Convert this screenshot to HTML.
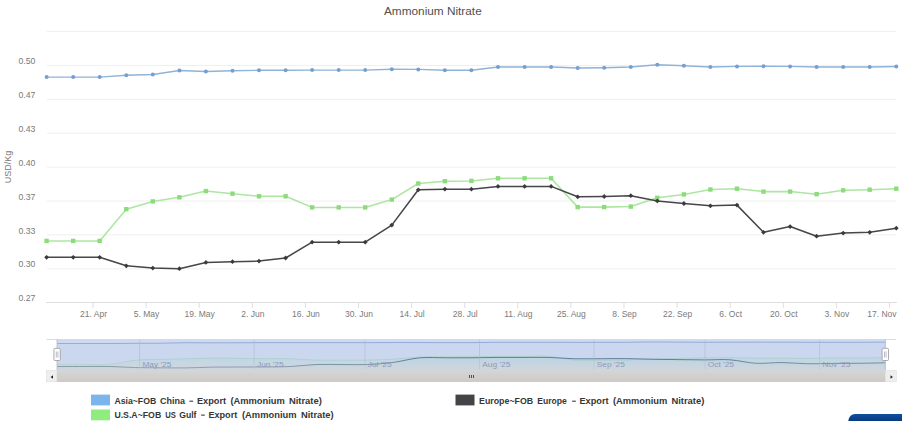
<!DOCTYPE html><html><head><meta charset="utf-8"><title>Ammonium Nitrate</title>
<style>html,body{margin:0;padding:0;background:#fff;}body{width:902px;height:424px;overflow:hidden;font-family:"Liberation Sans",sans-serif;}svg{display:block;}text{font-family:"Liberation Sans",sans-serif;}</style></head><body>
<svg width="902" height="424" viewBox="0 0 902 424">
<rect width="902" height="424" fill="#ffffff"/>
<line x1="47" x2="896" y1="31.5" y2="31.5" stroke="#efefef" stroke-width="1"/>
<line x1="47" x2="896" y1="65.4" y2="65.4" stroke="#efefef" stroke-width="1"/>
<line x1="47" x2="896" y1="99.3" y2="99.3" stroke="#efefef" stroke-width="1"/>
<line x1="47" x2="896" y1="133.2" y2="133.2" stroke="#efefef" stroke-width="1"/>
<line x1="47" x2="896" y1="167.1" y2="167.1" stroke="#efefef" stroke-width="1"/>
<line x1="47" x2="896" y1="201.0" y2="201.0" stroke="#efefef" stroke-width="1"/>
<line x1="47" x2="896" y1="234.9" y2="234.9" stroke="#efefef" stroke-width="1"/>
<line x1="47" x2="896" y1="268.8" y2="268.8" stroke="#efefef" stroke-width="1"/>
<line x1="46" x2="897" y1="302.5" y2="302.5" stroke="#dfdfe2" stroke-width="1"/>
<line x1="93.0" x2="93.0" y1="303" y2="308" stroke="#dfdfe2" stroke-width="1"/>
<line x1="146.1" x2="146.1" y1="303" y2="308" stroke="#dfdfe2" stroke-width="1"/>
<line x1="199.2" x2="199.2" y1="303" y2="308" stroke="#dfdfe2" stroke-width="1"/>
<line x1="252.3" x2="252.3" y1="303" y2="308" stroke="#dfdfe2" stroke-width="1"/>
<line x1="305.4" x2="305.4" y1="303" y2="308" stroke="#dfdfe2" stroke-width="1"/>
<line x1="358.5" x2="358.5" y1="303" y2="308" stroke="#dfdfe2" stroke-width="1"/>
<line x1="411.6" x2="411.6" y1="303" y2="308" stroke="#dfdfe2" stroke-width="1"/>
<line x1="464.7" x2="464.7" y1="303" y2="308" stroke="#dfdfe2" stroke-width="1"/>
<line x1="517.8" x2="517.8" y1="303" y2="308" stroke="#dfdfe2" stroke-width="1"/>
<line x1="570.9" x2="570.9" y1="303" y2="308" stroke="#dfdfe2" stroke-width="1"/>
<line x1="624.0" x2="624.0" y1="303" y2="308" stroke="#dfdfe2" stroke-width="1"/>
<line x1="677.1" x2="677.1" y1="303" y2="308" stroke="#dfdfe2" stroke-width="1"/>
<line x1="730.2" x2="730.2" y1="303" y2="308" stroke="#dfdfe2" stroke-width="1"/>
<line x1="783.3" x2="783.3" y1="303" y2="308" stroke="#dfdfe2" stroke-width="1"/>
<line x1="836.4" x2="836.4" y1="303" y2="308" stroke="#dfdfe2" stroke-width="1"/>
<line x1="889.5" x2="889.5" y1="303" y2="308" stroke="#dfdfe2" stroke-width="1"/>
<text x="384" y="15" font-size="11.2" fill="#505050" textLength="97.7" lengthAdjust="spacingAndGlyphs">Ammonium Nitrate</text>
<text x="18.4" y="64.0" font-size="8.8" fill="#7a7a7a" textLength="17" lengthAdjust="spacingAndGlyphs">0.50</text>
<text x="18.4" y="97.9" font-size="8.8" fill="#7a7a7a" textLength="17" lengthAdjust="spacingAndGlyphs">0.47</text>
<text x="18.4" y="131.8" font-size="8.8" fill="#7a7a7a" textLength="17" lengthAdjust="spacingAndGlyphs">0.43</text>
<text x="18.4" y="165.7" font-size="8.8" fill="#7a7a7a" textLength="17" lengthAdjust="spacingAndGlyphs">0.40</text>
<text x="18.4" y="199.6" font-size="8.8" fill="#7a7a7a" textLength="17" lengthAdjust="spacingAndGlyphs">0.37</text>
<text x="18.4" y="233.5" font-size="8.8" fill="#7a7a7a" textLength="17" lengthAdjust="spacingAndGlyphs">0.33</text>
<text x="18.4" y="267.4" font-size="8.8" fill="#7a7a7a" textLength="17" lengthAdjust="spacingAndGlyphs">0.30</text>
<text x="18.4" y="301.3" font-size="8.8" fill="#7a7a7a" textLength="17" lengthAdjust="spacingAndGlyphs">0.27</text>
<text transform="translate(10.7 167) rotate(-90)" text-anchor="middle" font-size="9.5" fill="#7a7a7a" textLength="32.5" lengthAdjust="spacingAndGlyphs">USD/Kg</text>
<text x="93.5" y="316.7" text-anchor="middle" font-size="8.5" fill="#7a7a7a">21. Apr</text>
<text x="146.6" y="316.7" text-anchor="middle" font-size="8.5" fill="#7a7a7a">5. May</text>
<text x="199.7" y="316.7" text-anchor="middle" font-size="8.5" fill="#7a7a7a">19. May</text>
<text x="252.8" y="316.7" text-anchor="middle" font-size="8.5" fill="#7a7a7a">2. Jun</text>
<text x="305.9" y="316.7" text-anchor="middle" font-size="8.5" fill="#7a7a7a">16. Jun</text>
<text x="359.0" y="316.7" text-anchor="middle" font-size="8.5" fill="#7a7a7a">30. Jun</text>
<text x="412.1" y="316.7" text-anchor="middle" font-size="8.5" fill="#7a7a7a">14. Jul</text>
<text x="465.2" y="316.7" text-anchor="middle" font-size="8.5" fill="#7a7a7a">28. Jul</text>
<text x="518.3" y="316.7" text-anchor="middle" font-size="8.5" fill="#7a7a7a">11. Aug</text>
<text x="571.4" y="316.7" text-anchor="middle" font-size="8.5" fill="#7a7a7a">25. Aug</text>
<text x="624.5" y="316.7" text-anchor="middle" font-size="8.5" fill="#7a7a7a">8. Sep</text>
<text x="677.6" y="316.7" text-anchor="middle" font-size="8.5" fill="#7a7a7a">22. Sep</text>
<text x="730.7" y="316.7" text-anchor="middle" font-size="8.5" fill="#7a7a7a">6. Oct</text>
<text x="783.8" y="316.7" text-anchor="middle" font-size="8.5" fill="#7a7a7a">20. Oct</text>
<text x="836.9" y="316.7" text-anchor="middle" font-size="8.5" fill="#7a7a7a">3. Nov</text>
<text x="896.5" y="316.7" text-anchor="end" font-size="8.5" fill="#7a7a7a">17. Nov</text>
<g transform="translate(0 0)">
<path d="M46.6 77.1 L73.2 77.1 L99.7 77.1 L126.3 75.3 L152.8 74.5 L179.4 70.5 L205.9 71.5 L232.5 70.8 L259.0 70.3 L285.6 70.2 L312.1 70.1 L338.7 70.1 L365.2 70.1 L391.8 69.3 L418.3 69.4 L444.9 70.2 L471.4 70.2 L498.0 67.0 L524.6 67.0 L551.1 67.0 L577.7 68.0 L604.2 67.7 L630.8 67.0 L657.3 64.7 L683.9 65.7 L710.4 67.0 L737.0 66.4 L763.5 66.2 L790.1 66.4 L816.6 67.0 L843.2 67.0 L869.7 67.0 L896.3 66.5" fill="none" stroke="#8fb3d9" stroke-width="1.4000000000000001" stroke-linejoin="round" stroke-linecap="round"/>
<circle cx="46.6" cy="77.1" r="2.0" fill="#779fcd"/>
<circle cx="73.2" cy="77.1" r="2.0" fill="#779fcd"/>
<circle cx="99.7" cy="77.1" r="2.0" fill="#779fcd"/>
<circle cx="126.3" cy="75.3" r="2.0" fill="#779fcd"/>
<circle cx="152.8" cy="74.5" r="2.0" fill="#779fcd"/>
<circle cx="179.4" cy="70.5" r="2.0" fill="#779fcd"/>
<circle cx="205.9" cy="71.5" r="2.0" fill="#779fcd"/>
<circle cx="232.5" cy="70.8" r="2.0" fill="#779fcd"/>
<circle cx="259.0" cy="70.3" r="2.0" fill="#779fcd"/>
<circle cx="285.6" cy="70.2" r="2.0" fill="#779fcd"/>
<circle cx="312.1" cy="70.1" r="2.0" fill="#779fcd"/>
<circle cx="338.7" cy="70.1" r="2.0" fill="#779fcd"/>
<circle cx="365.2" cy="70.1" r="2.0" fill="#779fcd"/>
<circle cx="391.8" cy="69.3" r="2.0" fill="#779fcd"/>
<circle cx="418.3" cy="69.4" r="2.0" fill="#779fcd"/>
<circle cx="444.9" cy="70.2" r="2.0" fill="#779fcd"/>
<circle cx="471.4" cy="70.2" r="2.0" fill="#779fcd"/>
<circle cx="498.0" cy="67.0" r="2.0" fill="#779fcd"/>
<circle cx="524.6" cy="67.0" r="2.0" fill="#779fcd"/>
<circle cx="551.1" cy="67.0" r="2.0" fill="#779fcd"/>
<circle cx="577.7" cy="68.0" r="2.0" fill="#779fcd"/>
<circle cx="604.2" cy="67.7" r="2.0" fill="#779fcd"/>
<circle cx="630.8" cy="67.0" r="2.0" fill="#779fcd"/>
<circle cx="657.3" cy="64.7" r="2.0" fill="#779fcd"/>
<circle cx="683.9" cy="65.7" r="2.0" fill="#779fcd"/>
<circle cx="710.4" cy="67.0" r="2.0" fill="#779fcd"/>
<circle cx="737.0" cy="66.4" r="2.0" fill="#779fcd"/>
<circle cx="763.5" cy="66.2" r="2.0" fill="#779fcd"/>
<circle cx="790.1" cy="66.4" r="2.0" fill="#779fcd"/>
<circle cx="816.6" cy="67.0" r="2.0" fill="#779fcd"/>
<circle cx="843.2" cy="67.0" r="2.0" fill="#779fcd"/>
<circle cx="869.7" cy="67.0" r="2.0" fill="#779fcd"/>
<circle cx="896.3" cy="66.5" r="2.0" fill="#779fcd"/>
</g>
<g transform="translate(0 0.3)">
<path d="M46.6 240.6 L73.2 240.6 L99.7 240.6 L126.3 208.9 L152.8 201.1 L179.4 197.0 L205.9 190.8 L232.5 193.4 L259.0 196.0 L285.6 196.0 L312.1 207.1 L338.7 207.1 L365.2 207.1 L391.8 199.3 L418.3 183.2 L444.9 180.9 L471.4 180.6 L498.0 178.0 L524.6 178.0 L551.1 178.0 L577.7 206.8 L604.2 206.8 L630.8 206.3 L657.3 197.5 L683.9 194.1 L710.4 189.2 L737.0 188.4 L763.5 191.3 L790.1 191.3 L816.6 193.9 L843.2 190.0 L869.7 189.4 L896.3 188.4" fill="none" stroke="#ace6a1" stroke-width="1.55" stroke-linejoin="round" stroke-linecap="round"/>
<rect x="44.4" y="238.4" width="4.4" height="4.4" fill="#8cdc7c"/>
<rect x="71.0" y="238.4" width="4.4" height="4.4" fill="#8cdc7c"/>
<rect x="97.5" y="238.4" width="4.4" height="4.4" fill="#8cdc7c"/>
<rect x="124.1" y="206.7" width="4.4" height="4.4" fill="#8cdc7c"/>
<rect x="150.6" y="198.9" width="4.4" height="4.4" fill="#8cdc7c"/>
<rect x="177.2" y="194.8" width="4.4" height="4.4" fill="#8cdc7c"/>
<rect x="203.7" y="188.6" width="4.4" height="4.4" fill="#8cdc7c"/>
<rect x="230.3" y="191.2" width="4.4" height="4.4" fill="#8cdc7c"/>
<rect x="256.8" y="193.8" width="4.4" height="4.4" fill="#8cdc7c"/>
<rect x="283.4" y="193.8" width="4.4" height="4.4" fill="#8cdc7c"/>
<rect x="309.9" y="204.9" width="4.4" height="4.4" fill="#8cdc7c"/>
<rect x="336.5" y="204.9" width="4.4" height="4.4" fill="#8cdc7c"/>
<rect x="363.0" y="204.9" width="4.4" height="4.4" fill="#8cdc7c"/>
<rect x="389.6" y="197.1" width="4.4" height="4.4" fill="#8cdc7c"/>
<rect x="416.1" y="181.0" width="4.4" height="4.4" fill="#8cdc7c"/>
<rect x="442.7" y="178.7" width="4.4" height="4.4" fill="#8cdc7c"/>
<rect x="469.2" y="178.4" width="4.4" height="4.4" fill="#8cdc7c"/>
<rect x="495.8" y="175.8" width="4.4" height="4.4" fill="#8cdc7c"/>
<rect x="522.4" y="175.8" width="4.4" height="4.4" fill="#8cdc7c"/>
<rect x="548.9" y="175.8" width="4.4" height="4.4" fill="#8cdc7c"/>
<rect x="575.5" y="204.6" width="4.4" height="4.4" fill="#8cdc7c"/>
<rect x="602.0" y="204.6" width="4.4" height="4.4" fill="#8cdc7c"/>
<rect x="628.6" y="204.1" width="4.4" height="4.4" fill="#8cdc7c"/>
<rect x="655.1" y="195.3" width="4.4" height="4.4" fill="#8cdc7c"/>
<rect x="681.7" y="191.9" width="4.4" height="4.4" fill="#8cdc7c"/>
<rect x="708.2" y="187.0" width="4.4" height="4.4" fill="#8cdc7c"/>
<rect x="734.8" y="186.2" width="4.4" height="4.4" fill="#8cdc7c"/>
<rect x="761.3" y="189.1" width="4.4" height="4.4" fill="#8cdc7c"/>
<rect x="787.9" y="189.1" width="4.4" height="4.4" fill="#8cdc7c"/>
<rect x="814.4" y="191.7" width="4.4" height="4.4" fill="#8cdc7c"/>
<rect x="841.0" y="187.8" width="4.4" height="4.4" fill="#8cdc7c"/>
<rect x="867.5" y="187.2" width="4.4" height="4.4" fill="#8cdc7c"/>
<rect x="894.1" y="186.2" width="4.4" height="4.4" fill="#8cdc7c"/>
<path d="M46.6 257.0 L73.2 257.0 L99.7 257.0 L126.3 265.5 L152.8 267.8 L179.4 268.4 L205.9 262.1 L232.5 261.4 L259.0 260.8 L285.6 257.7 L312.1 241.9 L338.7 241.9 L365.2 241.9 L391.8 224.8 L418.3 189.5 L444.9 188.9 L471.4 188.9 L498.0 186.1 L524.6 186.1 L551.1 186.1 L577.7 196.5 L604.2 196.2 L630.8 195.4 L657.3 200.6 L683.9 203.2 L710.4 205.5 L737.0 204.8 L763.5 232.0 L790.1 226.3 L816.6 235.9 L843.2 232.8 L869.7 232.0 L896.3 227.9" fill="none" stroke="#46464b" stroke-width="1.55" stroke-linejoin="round" stroke-linecap="round"/>
<path d="M46.6 254.6 L49.0 257.0 L46.6 259.4 L44.2 257.0Z" fill="#3a3a3f"/>
<path d="M73.2 254.6 L75.6 257.0 L73.2 259.4 L70.8 257.0Z" fill="#3a3a3f"/>
<path d="M99.7 254.6 L102.1 257.0 L99.7 259.4 L97.3 257.0Z" fill="#3a3a3f"/>
<path d="M126.3 263.1 L128.7 265.5 L126.3 267.9 L123.9 265.5Z" fill="#3a3a3f"/>
<path d="M152.8 265.4 L155.2 267.8 L152.8 270.2 L150.4 267.8Z" fill="#3a3a3f"/>
<path d="M179.4 266.0 L181.8 268.4 L179.4 270.8 L177.0 268.4Z" fill="#3a3a3f"/>
<path d="M205.9 259.7 L208.3 262.1 L205.9 264.5 L203.5 262.1Z" fill="#3a3a3f"/>
<path d="M232.5 259.0 L234.9 261.4 L232.5 263.8 L230.1 261.4Z" fill="#3a3a3f"/>
<path d="M259.0 258.4 L261.4 260.8 L259.0 263.2 L256.6 260.8Z" fill="#3a3a3f"/>
<path d="M285.6 255.3 L288.0 257.7 L285.6 260.1 L283.2 257.7Z" fill="#3a3a3f"/>
<path d="M312.1 239.5 L314.5 241.9 L312.1 244.3 L309.7 241.9Z" fill="#3a3a3f"/>
<path d="M338.7 239.5 L341.1 241.9 L338.7 244.3 L336.3 241.9Z" fill="#3a3a3f"/>
<path d="M365.2 239.5 L367.6 241.9 L365.2 244.3 L362.8 241.9Z" fill="#3a3a3f"/>
<path d="M391.8 222.4 L394.2 224.8 L391.8 227.2 L389.4 224.8Z" fill="#3a3a3f"/>
<path d="M418.3 187.1 L420.7 189.5 L418.3 191.9 L415.9 189.5Z" fill="#3a3a3f"/>
<path d="M444.9 186.5 L447.3 188.9 L444.9 191.3 L442.5 188.9Z" fill="#3a3a3f"/>
<path d="M471.4 186.5 L473.8 188.9 L471.4 191.3 L469.0 188.9Z" fill="#3a3a3f"/>
<path d="M498.0 183.7 L500.4 186.1 L498.0 188.5 L495.6 186.1Z" fill="#3a3a3f"/>
<path d="M524.6 183.7 L527.0 186.1 L524.6 188.5 L522.2 186.1Z" fill="#3a3a3f"/>
<path d="M551.1 183.7 L553.5 186.1 L551.1 188.5 L548.7 186.1Z" fill="#3a3a3f"/>
<path d="M577.7 194.1 L580.1 196.5 L577.7 198.9 L575.3 196.5Z" fill="#3a3a3f"/>
<path d="M604.2 193.8 L606.6 196.2 L604.2 198.6 L601.8 196.2Z" fill="#3a3a3f"/>
<path d="M630.8 193.0 L633.2 195.4 L630.8 197.8 L628.4 195.4Z" fill="#3a3a3f"/>
<path d="M657.3 198.2 L659.7 200.6 L657.3 203.0 L654.9 200.6Z" fill="#3a3a3f"/>
<path d="M683.9 200.8 L686.3 203.2 L683.9 205.6 L681.5 203.2Z" fill="#3a3a3f"/>
<path d="M710.4 203.1 L712.8 205.5 L710.4 207.9 L708.0 205.5Z" fill="#3a3a3f"/>
<path d="M737.0 202.4 L739.4 204.8 L737.0 207.2 L734.6 204.8Z" fill="#3a3a3f"/>
<path d="M763.5 229.6 L765.9 232.0 L763.5 234.4 L761.1 232.0Z" fill="#3a3a3f"/>
<path d="M790.1 223.9 L792.5 226.3 L790.1 228.7 L787.7 226.3Z" fill="#3a3a3f"/>
<path d="M816.6 233.5 L819.0 235.9 L816.6 238.3 L814.2 235.9Z" fill="#3a3a3f"/>
<path d="M843.2 230.4 L845.6 232.8 L843.2 235.2 L840.8 232.8Z" fill="#3a3a3f"/>
<path d="M869.7 229.6 L872.1 232.0 L869.7 234.4 L867.3 232.0Z" fill="#3a3a3f"/>
<path d="M896.3 225.5 L898.7 227.9 L896.3 230.3 L893.9 227.9Z" fill="#3a3a3f"/>
</g>
<path d="M57.1 343.54 C61.4 343.54 74.4 343.54 83.0 343.54 C91.6 343.54 100.2 343.58 108.9 343.54 C117.5 343.50 126.1 343.36 134.7 343.31 C143.4 343.25 152.0 343.31 160.6 343.21 C169.3 343.11 177.9 342.76 186.5 342.70 C195.1 342.63 203.8 342.82 212.4 342.83 C221.0 342.83 229.6 342.76 238.3 342.74 C246.9 342.71 255.5 342.69 264.1 342.67 C272.8 342.66 281.4 342.66 290.0 342.66 C298.7 342.66 307.3 342.65 315.9 342.65 C324.5 342.64 333.2 342.65 341.8 342.65 C350.4 342.65 359.0 342.66 367.7 342.65 C376.3 342.63 384.9 342.56 393.6 342.54 C402.2 342.53 410.8 342.54 419.4 342.56 C428.1 342.58 436.7 342.64 445.3 342.66 C453.9 342.68 462.6 342.73 471.2 342.66 C479.8 342.59 488.5 342.32 497.1 342.25 C505.7 342.18 514.3 342.25 523.0 342.25 C531.6 342.25 540.2 342.23 548.8 342.25 C557.5 342.27 566.1 342.36 574.7 342.38 C583.4 342.39 592.0 342.36 600.6 342.34 C609.2 342.32 617.9 342.32 626.5 342.25 C635.1 342.19 643.7 341.99 652.4 341.96 C661.0 341.93 669.6 342.04 678.2 342.09 C686.9 342.13 695.5 342.24 704.1 342.25 C712.8 342.27 721.4 342.19 730.0 342.18 C738.6 342.16 747.3 342.15 755.9 342.15 C764.5 342.15 773.1 342.16 781.8 342.18 C790.4 342.19 799.0 342.24 807.7 342.25 C816.3 342.26 824.9 342.25 833.5 342.25 C842.2 342.25 850.8 342.26 859.4 342.25 C868.0 342.24 881.0 342.20 885.3 342.19 L885.3 370.5 L57.1 370.5Z" fill="#6d93c6" fill-opacity="0.04" stroke="none"/>
<path d="M57.1 343.54 C61.4 343.54 74.4 343.54 83.0 343.54 C91.6 343.54 100.2 343.58 108.9 343.54 C117.5 343.50 126.1 343.36 134.7 343.31 C143.4 343.25 152.0 343.31 160.6 343.21 C169.3 343.11 177.9 342.76 186.5 342.70 C195.1 342.63 203.8 342.82 212.4 342.83 C221.0 342.83 229.6 342.76 238.3 342.74 C246.9 342.71 255.5 342.69 264.1 342.67 C272.8 342.66 281.4 342.66 290.0 342.66 C298.7 342.66 307.3 342.65 315.9 342.65 C324.5 342.64 333.2 342.65 341.8 342.65 C350.4 342.65 359.0 342.66 367.7 342.65 C376.3 342.63 384.9 342.56 393.6 342.54 C402.2 342.53 410.8 342.54 419.4 342.56 C428.1 342.58 436.7 342.64 445.3 342.66 C453.9 342.68 462.6 342.73 471.2 342.66 C479.8 342.59 488.5 342.32 497.1 342.25 C505.7 342.18 514.3 342.25 523.0 342.25 C531.6 342.25 540.2 342.23 548.8 342.25 C557.5 342.27 566.1 342.36 574.7 342.38 C583.4 342.39 592.0 342.36 600.6 342.34 C609.2 342.32 617.9 342.32 626.5 342.25 C635.1 342.19 643.7 341.99 652.4 341.96 C661.0 341.93 669.6 342.04 678.2 342.09 C686.9 342.13 695.5 342.24 704.1 342.25 C712.8 342.27 721.4 342.19 730.0 342.18 C738.6 342.16 747.3 342.15 755.9 342.15 C764.5 342.15 773.1 342.16 781.8 342.18 C790.4 342.19 799.0 342.24 807.7 342.25 C816.3 342.26 824.9 342.25 833.5 342.25 C842.2 342.25 850.8 342.26 859.4 342.25 C868.0 342.24 881.0 342.20 885.3 342.19" fill="none" stroke="#6d93c6" stroke-width="1" stroke-opacity="0.6"/>
<path d="M57.1 364.38 C61.4 364.38 74.4 364.38 83.0 364.38 C91.6 364.38 100.2 365.05 108.9 364.38 C117.5 363.70 126.1 361.18 134.7 360.34 C143.4 359.50 152.0 359.60 160.6 359.34 C169.3 359.09 177.9 359.04 186.5 358.82 C195.1 358.60 203.8 358.11 212.4 358.03 C221.0 357.95 229.6 358.25 238.3 358.36 C246.9 358.47 255.5 358.64 264.1 358.69 C272.8 358.75 281.4 358.46 290.0 358.69 C298.7 358.93 307.3 359.87 315.9 360.11 C324.5 360.34 333.2 360.11 341.8 360.11 C350.4 360.11 359.0 360.27 367.7 360.11 C376.3 359.94 384.9 359.62 393.6 359.11 C402.2 358.61 410.8 357.45 419.4 357.06 C428.1 356.67 436.7 356.82 445.3 356.77 C453.9 356.71 462.6 356.79 471.2 356.73 C479.8 356.67 488.5 356.45 497.1 356.40 C505.7 356.34 514.3 356.40 523.0 356.40 C531.6 356.40 540.2 355.79 548.8 356.40 C557.5 357.01 566.1 359.46 574.7 360.07 C583.4 360.68 592.0 360.08 600.6 360.07 C609.2 360.06 617.9 360.20 626.5 360.01 C635.1 359.81 643.7 359.14 652.4 358.88 C661.0 358.62 669.6 358.63 678.2 358.45 C686.9 358.27 695.5 357.95 704.1 357.83 C712.8 357.71 721.4 357.68 730.0 357.72 C738.6 357.77 747.3 358.03 755.9 358.09 C764.5 358.16 773.1 358.04 781.8 358.09 C790.4 358.15 799.0 358.45 807.7 358.43 C816.3 358.40 824.9 358.02 833.5 357.93 C842.2 357.83 850.8 357.89 859.4 357.85 C868.0 357.82 881.0 357.75 885.3 357.72 L885.3 370.5 L57.1 370.5Z" fill="#90ed7d" fill-opacity="0.1" stroke="none"/>
<path d="M57.1 364.38 C61.4 364.38 74.4 364.38 83.0 364.38 C91.6 364.38 100.2 365.05 108.9 364.38 C117.5 363.70 126.1 361.18 134.7 360.34 C143.4 359.50 152.0 359.60 160.6 359.34 C169.3 359.09 177.9 359.04 186.5 358.82 C195.1 358.60 203.8 358.11 212.4 358.03 C221.0 357.95 229.6 358.25 238.3 358.36 C246.9 358.47 255.5 358.64 264.1 358.69 C272.8 358.75 281.4 358.46 290.0 358.69 C298.7 358.93 307.3 359.87 315.9 360.11 C324.5 360.34 333.2 360.11 341.8 360.11 C350.4 360.11 359.0 360.27 367.7 360.11 C376.3 359.94 384.9 359.62 393.6 359.11 C402.2 358.61 410.8 357.45 419.4 357.06 C428.1 356.67 436.7 356.82 445.3 356.77 C453.9 356.71 462.6 356.79 471.2 356.73 C479.8 356.67 488.5 356.45 497.1 356.40 C505.7 356.34 514.3 356.40 523.0 356.40 C531.6 356.40 540.2 355.79 548.8 356.40 C557.5 357.01 566.1 359.46 574.7 360.07 C583.4 360.68 592.0 360.08 600.6 360.07 C609.2 360.06 617.9 360.20 626.5 360.01 C635.1 359.81 643.7 359.14 652.4 358.88 C661.0 358.62 669.6 358.63 678.2 358.45 C686.9 358.27 695.5 357.95 704.1 357.83 C712.8 357.71 721.4 357.68 730.0 357.72 C738.6 357.77 747.3 358.03 755.9 358.09 C764.5 358.16 773.1 358.04 781.8 358.09 C790.4 358.15 799.0 358.45 807.7 358.43 C816.3 358.40 824.9 358.02 833.5 357.93 C842.2 357.83 850.8 357.89 859.4 357.85 C868.0 357.82 881.0 357.75 885.3 357.72" fill="none" stroke="#90ed7d" stroke-width="1" stroke-opacity="0.38"/>
<path d="M57.1 366.47 C61.4 366.47 74.4 366.47 83.0 366.47 C91.6 366.47 100.2 366.29 108.9 366.47 C117.5 366.65 126.1 367.32 134.7 367.55 C143.4 367.78 152.0 367.78 160.6 367.84 C169.3 367.91 177.9 368.04 186.5 367.92 C195.1 367.80 203.8 367.27 212.4 367.12 C221.0 366.97 229.6 367.06 238.3 367.03 C246.9 367.00 255.5 367.03 264.1 366.95 C272.8 366.87 281.4 366.96 290.0 366.56 C298.7 366.16 307.3 364.88 315.9 364.54 C324.5 364.21 333.2 364.54 341.8 364.54 C350.4 364.54 359.0 364.91 367.7 364.54 C376.3 364.18 384.9 363.48 393.6 362.36 C402.2 361.25 410.8 358.63 419.4 357.86 C428.1 357.10 436.7 357.80 445.3 357.79 C453.9 357.78 462.6 357.85 471.2 357.79 C479.8 357.73 488.5 357.49 497.1 357.43 C505.7 357.37 514.3 357.43 523.0 357.43 C531.6 357.43 540.2 357.21 548.8 357.43 C557.5 357.65 566.1 358.54 574.7 358.76 C583.4 358.97 592.0 358.74 600.6 358.72 C609.2 358.69 617.9 358.52 626.5 358.62 C635.1 358.71 643.7 359.11 652.4 359.28 C661.0 359.44 669.6 359.51 678.2 359.61 C686.9 359.71 695.5 359.87 704.1 359.90 C712.8 359.94 721.4 359.25 730.0 359.81 C738.6 360.38 747.3 362.82 755.9 363.28 C764.5 363.74 773.1 362.47 781.8 362.55 C790.4 362.64 799.0 363.64 807.7 363.78 C816.3 363.92 824.9 363.47 833.5 363.38 C842.2 363.30 850.8 363.39 859.4 363.28 C868.0 363.18 881.0 362.85 885.3 362.76 L885.3 370.5 L57.1 370.5Z" fill="#3f5f6c" fill-opacity="0.02" stroke="none"/>
<path d="M57.1 366.47 C61.4 366.47 74.4 366.47 83.0 366.47 C91.6 366.47 100.2 366.29 108.9 366.47 C117.5 366.65 126.1 367.32 134.7 367.55 C143.4 367.78 152.0 367.78 160.6 367.84 C169.3 367.91 177.9 368.04 186.5 367.92 C195.1 367.80 203.8 367.27 212.4 367.12 C221.0 366.97 229.6 367.06 238.3 367.03 C246.9 367.00 255.5 367.03 264.1 366.95 C272.8 366.87 281.4 366.96 290.0 366.56 C298.7 366.16 307.3 364.88 315.9 364.54 C324.5 364.21 333.2 364.54 341.8 364.54 C350.4 364.54 359.0 364.91 367.7 364.54 C376.3 364.18 384.9 363.48 393.6 362.36 C402.2 361.25 410.8 358.63 419.4 357.86 C428.1 357.10 436.7 357.80 445.3 357.79 C453.9 357.78 462.6 357.85 471.2 357.79 C479.8 357.73 488.5 357.49 497.1 357.43 C505.7 357.37 514.3 357.43 523.0 357.43 C531.6 357.43 540.2 357.21 548.8 357.43 C557.5 357.65 566.1 358.54 574.7 358.76 C583.4 358.97 592.0 358.74 600.6 358.72 C609.2 358.69 617.9 358.52 626.5 358.62 C635.1 358.71 643.7 359.11 652.4 359.28 C661.0 359.44 669.6 359.51 678.2 359.61 C686.9 359.71 695.5 359.87 704.1 359.90 C712.8 359.94 721.4 359.25 730.0 359.81 C738.6 360.38 747.3 362.82 755.9 363.28 C764.5 363.74 773.1 362.47 781.8 362.55 C790.4 362.64 799.0 363.64 807.7 363.78 C816.3 363.92 824.9 363.47 833.5 363.38 C842.2 363.30 850.8 363.39 859.4 363.28 C868.0 363.18 881.0 362.85 885.3 362.76" fill="none" stroke="#3f5f6c" stroke-width="1" stroke-opacity="0.8"/>
<rect x="57.1" y="339.2" width="828.1999999999999" height="31.30000000000001" fill="#5f86d0" fill-opacity="0.30"/>
<line x1="139.6" x2="139.6" y1="339.2" y2="370.5" stroke="#aab6d2" stroke-opacity="0.55" stroke-width="1"/>
<line x1="254.2" x2="254.2" y1="339.2" y2="370.5" stroke="#aab6d2" stroke-opacity="0.55" stroke-width="1"/>
<line x1="365.0" x2="365.0" y1="339.2" y2="370.5" stroke="#aab6d2" stroke-opacity="0.55" stroke-width="1"/>
<line x1="479.5" x2="479.5" y1="339.2" y2="370.5" stroke="#aab6d2" stroke-opacity="0.55" stroke-width="1"/>
<line x1="594.0" x2="594.0" y1="339.2" y2="370.5" stroke="#aab6d2" stroke-opacity="0.55" stroke-width="1"/>
<line x1="705.0" x2="705.0" y1="339.2" y2="370.5" stroke="#aab6d2" stroke-opacity="0.55" stroke-width="1"/>
<line x1="819.6" x2="819.6" y1="339.2" y2="370.5" stroke="#aab6d2" stroke-opacity="0.55" stroke-width="1"/>
<defs><linearGradient id="nf" x1="0" y1="0" x2="0" y2="1"><stop offset="0" stop-color="#e1d8cf" stop-opacity="0"/><stop offset="1" stop-color="#e1d8cf" stop-opacity="0.5"/></linearGradient></defs>
<rect x="57.1" y="360" width="828.1999999999999" height="10.5" fill="url(#nf)"/>
<text transform="translate(142.4 367) scale(1.1 1)" font-size="7.6" fill="#8e9ab8">May '25</text>
<text transform="translate(257.0 367) scale(1.1 1)" font-size="7.6" fill="#8e9ab8">Jun '25</text>
<text transform="translate(367.8 367) scale(1.1 1)" font-size="7.6" fill="#8e9ab8">Jul '25</text>
<text transform="translate(482.3 367) scale(1.1 1)" font-size="7.6" fill="#8e9ab8">Aug '25</text>
<text transform="translate(596.8 367) scale(1.1 1)" font-size="7.6" fill="#8e9ab8">Sep '25</text>
<text transform="translate(707.8 367) scale(1.1 1)" font-size="7.6" fill="#8e9ab8">Oct '25</text>
<text transform="translate(822.4 367) scale(1.1 1)" font-size="7.6" fill="#8e9ab8">Nov '25</text>
<path d="M46.5 339.5 L896 339.5" fill="none" stroke="#d8d8dc" stroke-width="0.9"/>
<path d="M57.1 339.2 V370.5 M885.3 339.2 V370.5" fill="none" stroke="#b8c0d0" stroke-width="1"/>
<rect x="46.5" y="370.5" width="849.5" height="11.5" fill="#eeeeee"/>
<defs><linearGradient id="sb" x1="0" y1="0" x2="0" y2="1"><stop offset="0" stop-color="#d3d6dc"/><stop offset="0.55" stop-color="#d2cfcb"/><stop offset="1" stop-color="#cccbca"/></linearGradient></defs>
<rect x="57.1" y="370.0" width="828.1999999999999" height="12" fill="url(#sb)"/>
<rect x="46.3" y="370.5" width="10.2" height="11.3" fill="#eeeeee" stroke="#dcdcdc" stroke-width="0.5"/>
<rect x="885.8" y="370.5" width="10.5" height="11.3" fill="#eeeeee" stroke="#dcdcdc" stroke-width="0.5"/>
<path d="M50.6 377 L53 375.2 V378.8Z" fill="#222"/>
<path d="M892.9 377 L890.5 375.2 V378.8Z" fill="#222"/>
<path d="M469.5 374.5 V377.8 M471.5 374.5 V377.8 M473.5 374.5 V377.8" stroke="#3a3a3a" stroke-width="0.85" shape-rendering="crispEdges" fill="none"/>
<rect x="53.9" y="348.3" width="6.4" height="12.2" rx="1" fill="#fdfdfd" stroke="#a2a2a6" stroke-width="0.9"/>
<path d="M56.3 351.5 V357.5 M57.9 351.5 V357.5" stroke="#a8acc0" stroke-width="0.8" fill="none"/>
<rect x="882.1" y="348.3" width="6.4" height="12.2" rx="1" fill="#fdfdfd" stroke="#a2a2a6" stroke-width="0.9"/>
<path d="M884.5 351.5 V357.5 M886.1 351.5 V357.5" stroke="#a8acc0" stroke-width="0.8" fill="none"/>
<rect x="91" y="394.6" width="19" height="10.8" fill="#7cb5ec"/>
<rect x="91" y="409.5" width="19" height="10.8" fill="#90ed7d"/>
<rect x="455.5" y="394.6" width="19" height="10.8" fill="#434348"/>
<text x="114.4" y="404.1" font-size="9.3" font-weight="bold" fill="#363636" textLength="41.8" lengthAdjust="spacingAndGlyphs">Asia~FOB</text>
<text x="159.9" y="404.1" font-size="9.3" font-weight="bold" fill="#363636" textLength="25.0" lengthAdjust="spacingAndGlyphs">China</text>
<line x1="189.4" x2="193.1" y1="401.2" y2="401.2" stroke="#383838" stroke-width="1.1"/>
<text x="196.9" y="404.1" font-size="9.3" font-weight="bold" fill="#363636" textLength="29.2" lengthAdjust="spacingAndGlyphs">Export</text>
<text x="230.4" y="404.1" font-size="9.3" font-weight="bold" fill="#363636" textLength="54.5" lengthAdjust="spacingAndGlyphs">(Ammonium</text>
<text x="288.9" y="404.1" font-size="9.3" font-weight="bold" fill="#363636" textLength="32.9" lengthAdjust="spacingAndGlyphs">Nitrate)</text>
<text x="114.4" y="418.0" font-size="9.3" font-weight="bold" fill="#363636" textLength="46.8" lengthAdjust="spacingAndGlyphs">U.S.A~FOB</text>
<text x="165.2" y="418.0" font-size="9.3" font-weight="bold" fill="#363636" textLength="10.6" lengthAdjust="spacingAndGlyphs">US</text>
<text x="179.2" y="418.0" font-size="9.3" font-weight="bold" fill="#363636" textLength="17.3" lengthAdjust="spacingAndGlyphs">Gulf</text>
<line x1="201.1" x2="204.8" y1="415.1" y2="415.1" stroke="#383838" stroke-width="1.1"/>
<text x="208.4" y="418.0" font-size="9.3" font-weight="bold" fill="#363636" textLength="28.9" lengthAdjust="spacingAndGlyphs">Export</text>
<text x="242" y="418.0" font-size="9.3" font-weight="bold" fill="#363636" textLength="54.5" lengthAdjust="spacingAndGlyphs">(Ammonium</text>
<text x="300.9" y="418.0" font-size="9.3" font-weight="bold" fill="#363636" textLength="32.8" lengthAdjust="spacingAndGlyphs">Nitrate)</text>
<text x="479" y="404.1" font-size="9.3" font-weight="bold" fill="#363636" textLength="54.2" lengthAdjust="spacingAndGlyphs">Europe~FOB</text>
<text x="537.2" y="404.1" font-size="9.3" font-weight="bold" fill="#363636" textLength="29.6" lengthAdjust="spacingAndGlyphs">Europe</text>
<line x1="572.2" x2="575.8" y1="401.2" y2="401.2" stroke="#383838" stroke-width="1.1"/>
<text x="579.4" y="404.1" font-size="9.3" font-weight="bold" fill="#363636" textLength="29.2" lengthAdjust="spacingAndGlyphs">Export</text>
<text x="612.9" y="404.1" font-size="9.3" font-weight="bold" fill="#363636" textLength="54.5" lengthAdjust="spacingAndGlyphs">(Ammonium</text>
<text x="671.4" y="404.1" font-size="9.3" font-weight="bold" fill="#363636" textLength="32.9" lengthAdjust="spacingAndGlyphs">Nitrate)</text>
<defs><linearGradient id="cb" x1="0" y1="0" x2="0" y2="1"><stop offset="0" stop-color="#114e9f"/><stop offset="1" stop-color="#083a80"/></linearGradient></defs>
<path d="M848.2 421 Q849.5 414 855 414 H902 V421Z" fill="url(#cb)"/>
</svg></body></html>
